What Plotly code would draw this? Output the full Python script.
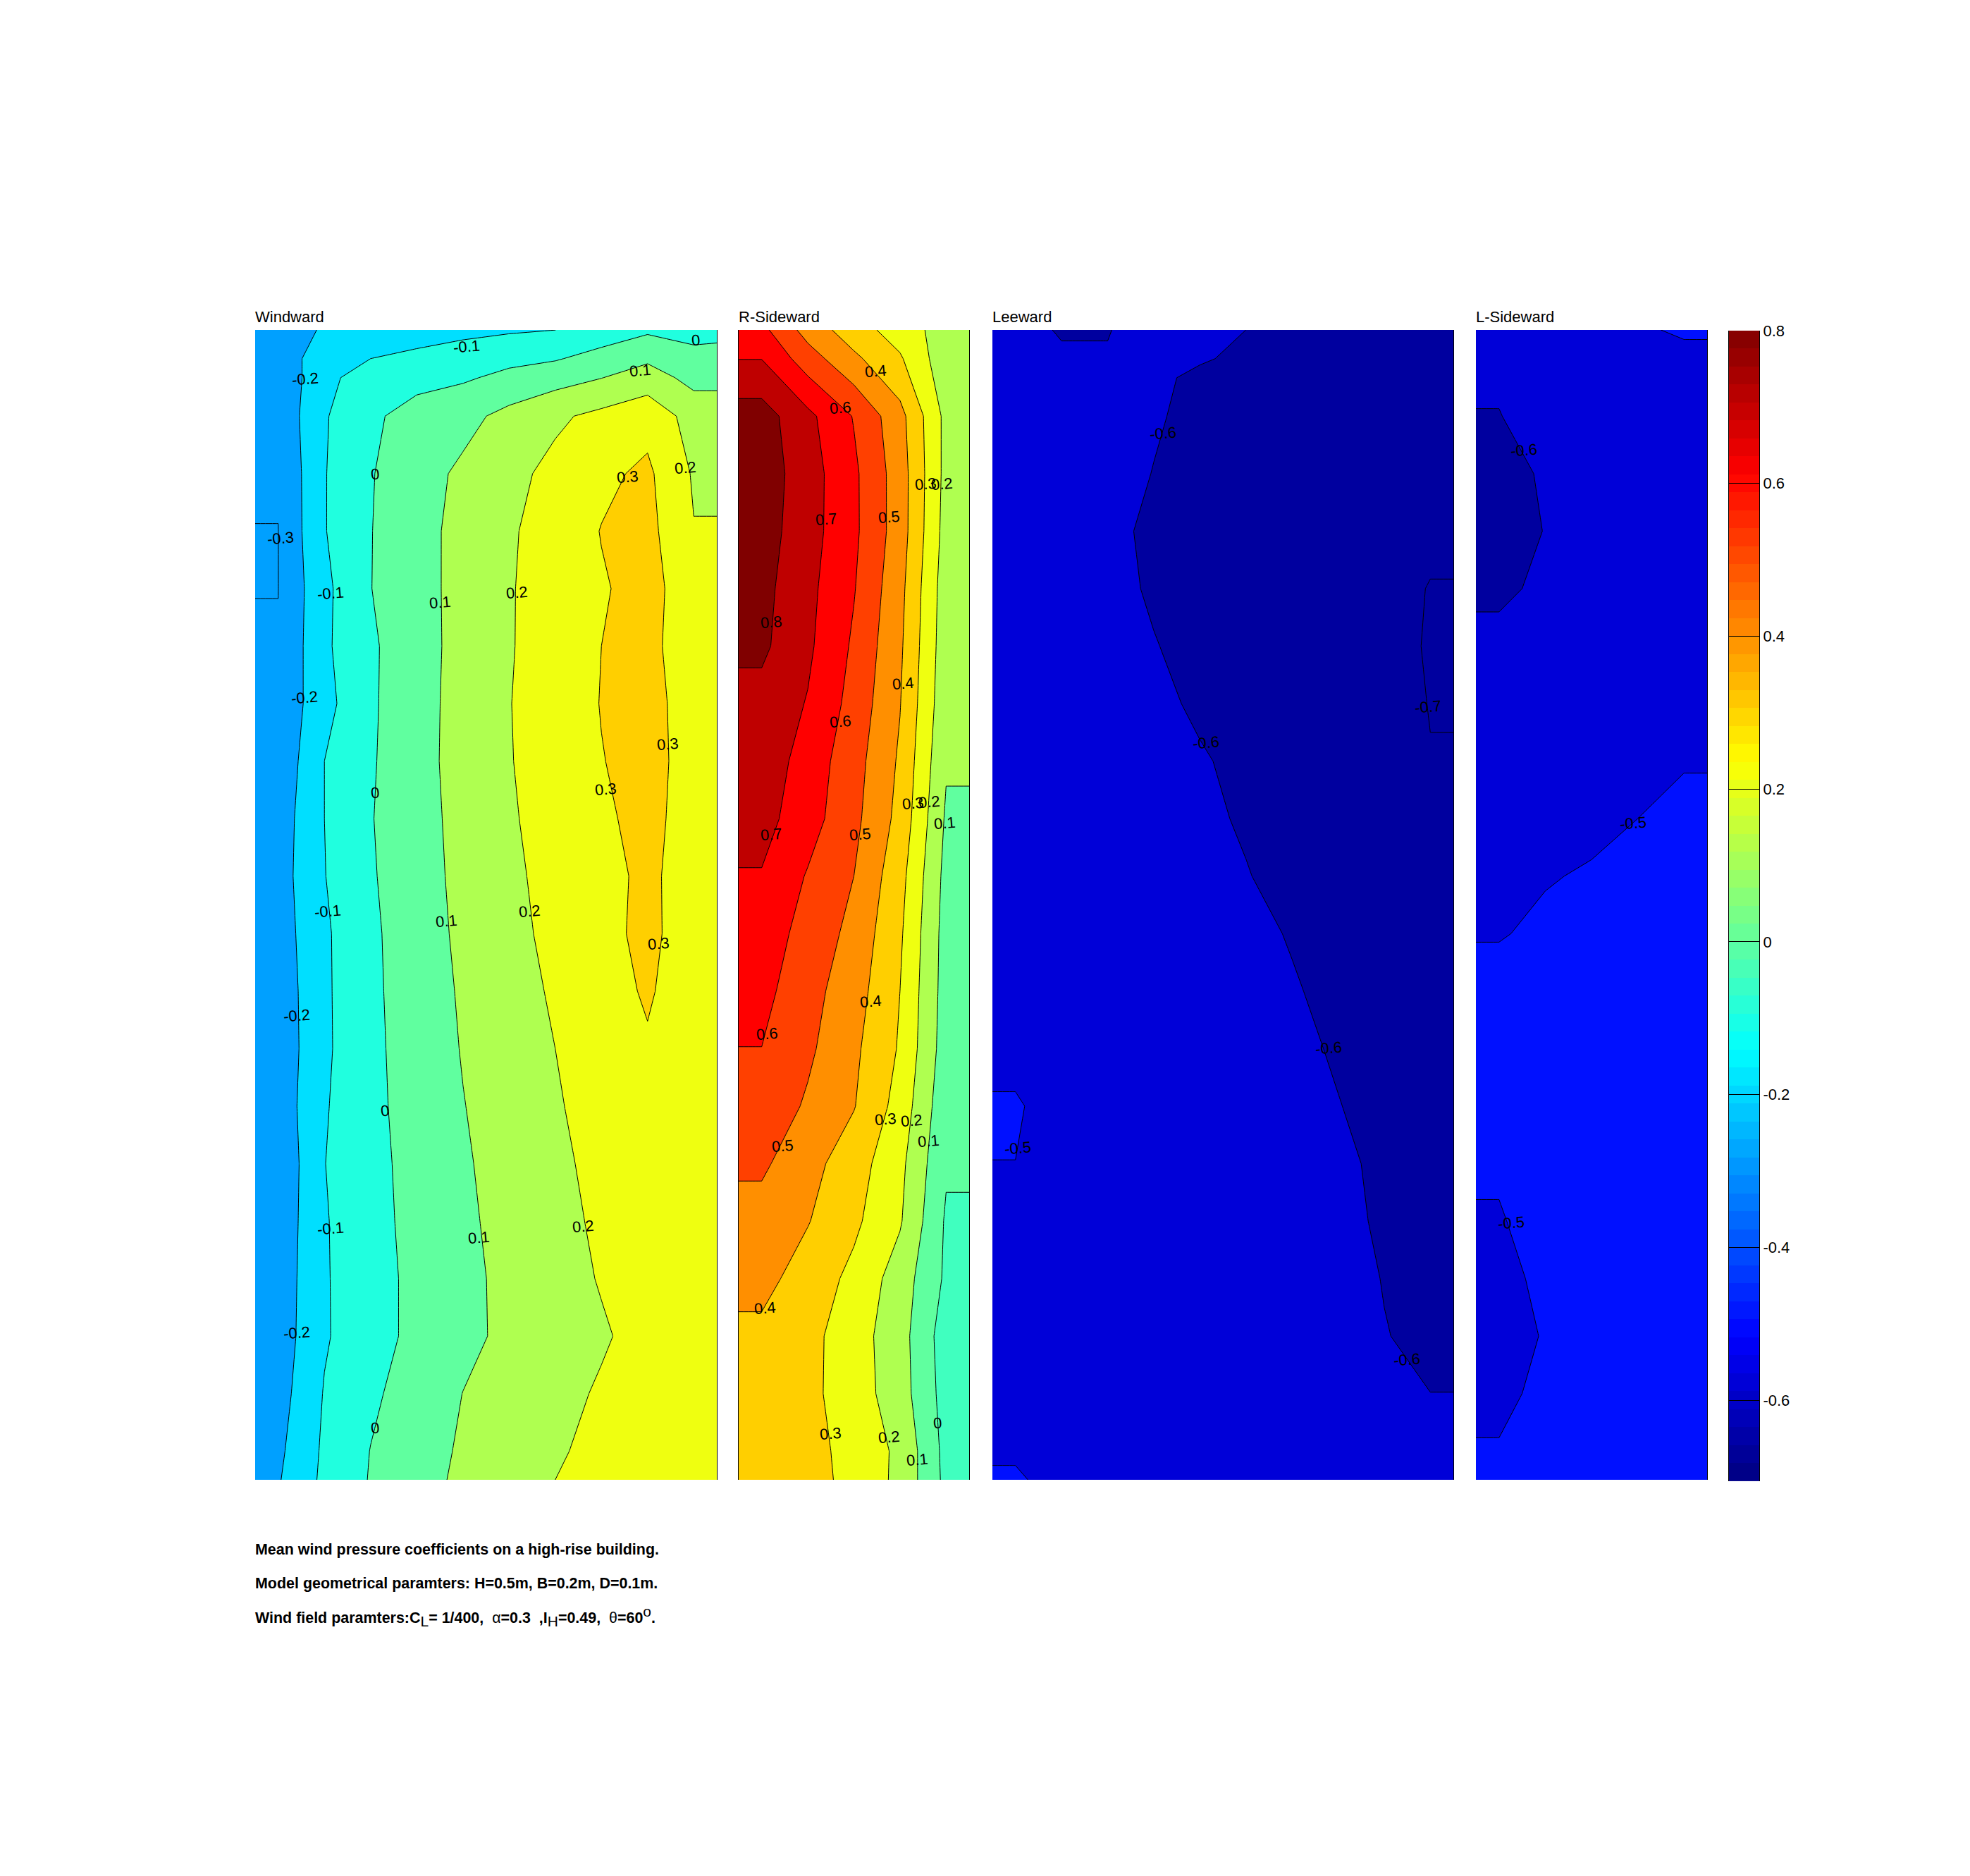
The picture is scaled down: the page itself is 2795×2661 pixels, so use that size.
import plotly.graph_objects as go

W, H = 2795, 2661

# measurement grid (m); rows listed from top of the building to the bottom
heights = [0.5, 0.4875, 0.4625, 0.4375, 0.4125, 0.3875, 0.3625, 0.3375, 0.3125, 0.2875, 0.2625,
           0.2375, 0.2125, 0.1875, 0.1625, 0.1375, 0.1125, 0.0875, 0.0625, 0.0375, 0.0125, 0.0]
wide_heights = [0.5, 0.4875, 0.4792, 0.4625, 0.4375, 0.4125, 0.3875, 0.3625, 0.3375, 0.3125, 0.2875, 0.2625,
                0.2375, 0.2125, 0.1875, 0.1625, 0.1375, 0.1125, 0.0875, 0.0625, 0.0375, 0.0125, 0.0]
wide_x = [0, 0.01, 0.03, 0.05, 0.07, 0.09, 0.11, 0.13, 0.15, 0.17, 0.19, 0.2]
narrow_x = [0, 0.01, 0.03, 0.05, 0.07, 0.09, 0.1]

windward = [
 [-.25,-.25,-.19,-.17,-.145,-.125,-.112,-.1005,-.056,-.016,-.033,-.025],
 [-.28,-.28,-.125,-.1,-.076,-.053,-.023,-.008,.036,.084,.03,.03],
 [-.28,-.28,-.125,-.054,-.03,-.012,.023,.06,.098,.144,.07,.07],
 [-.277,-.277,-.109,-.017,.037,.069,.13,.183,.225,.268,.159,.159],
 [-.2967,-.2967,-.105,-.006,.059,.119,.173,.226,.28,.318,.19,.19],
 [-.3005,-.3005,-.105,-.003,.066,.13,.188,.244,.303,.33,.2035,.2035],
 [-.3005,-.3005,-.123,-.002,.065,.131,.193,.243,.292,.33,.25,.25],
 [-.2976,-.2976,-.117,-.015,.063,.131,.193,.247,.3,.325,.247,.247],
 [-.28,-.28,-.132,-.014,.065,.134,.197,.249,.303,.33,.26,.26],
 [-.276,-.276,-.1,-.01,.064,.138,.195,.246,.297,.33,.265,.265],
 [-.254,-.254,-.1,-.005,.063,.13,.189,.239,.289,.32,.27,.27],
 [-.246,-.246,-.103,-.01,.06,.125,.18,.232,.281,.313,.27,.27],
 [-.252,-.252,-.115,-.018,.055,.119,.173,.224,.273,.323,.25,.25],
 [-.264,-.264,-.116,-.02,.05,.111,.162,.212,.261,.311,.245,.245],
 [-.268,-.268,-.117,-.022,.044,.105,.152,.2,.245,.29,.24,.24],
 [-.262,-.262,-.109,-.024,.039,.097,.144,.19,.24,.27,.24,.24],
 [-.281,-.281,-.102,-.028,.032,.089,.136,.181,.225,.26,.24,.24],
 [-.27,-.27,-.108,-.032,.029,.083,.129,.172,.216,.25,.24,.24],
 [-.262,-.262,-.109,-.037,.024,.076,.123,.164,.206,.24,.23,.23],
 [-.256,-.256,-.11,-.037,.024,.077,.12,.155,.19,.23,.24,.24],
 [-.242,-.242,-.094,-.017,.044,.101,.138,.173,.21,.23,.23,.23],
 [-.22,-.22,-.084,.002,.059,.112,.151,.189,.225,.24,.24,.24],
 [-.208,-.208,-.079,.006,.066,.118,.16,.2,.23,.25,.25,.25],
]

r_sideward = [
 [.627,.627,.461,.345,.254,.154,.154],
 [.698,.698,.546,.421,.312,.136,.136],
 [.845,.845,.725,.594,.433,.172,.172],
 [.856,.856,.745,.619,.45,.17,.17],
 [.845,.845,.742,.62,.45,.161,.161],
 [.83,.83,.727,.606,.43,.146,.146],
 [.82,.82,.718,.585,.417,.14,.14],
 [.767,.767,.694,.565,.404,.13,.13],
 [.76,.76,.658,.54,.386,.11,.11],
 [.735,.735,.643,.526,.37,.087,.087],
 [.694,.694,.592,.5,.335,.07,.07],
 [.65,.65,.566,.47,.315,.06,.06],
 [.63,.63,.535,.445,.3,.057,.057],
 [.599,.599,.518,.42,.29,.05,.05],
 [.565,.565,.487,.405,.262,.03,.03],
 [.517,.517,.434,.347,.226,.012,.012],
 [.461,.461,.405,.32,.21,-.012,-.012],
 [.43,.43,.357,.275,.153,-.016,-.016],
 [.378,.378,.33,.245,.14,-.05,-.05],
 [.37,.37,.325,.25,.145,-.04,-.04],
 [.36,.36,.335,.265,.18,-.03,-.03],
 [.36,.36,.34,.268,.177,-.025,-.025],
]

leeward = [
 [-.58,-.58,-.605,-.605,-.55,-.59,-.6,-.61,-.62,-.62,-.62,-.62],
 [-.56,-.56,-.592,-.592,-.58,-.595,-.61,-.63,-.64,-.64,-.64,-.64],
 [-.56,-.56,-.585,-.59,-.59,-.61,-.62,-.635,-.645,-.645,-.645,-.645],
 [-.56,-.56,-.58,-.59,-.596,-.61,-.63,-.64,-.65,-.65,-.65,-.65],
 [-.55,-.55,-.57,-.585,-.601,-.625,-.64,-.65,-.655,-.66,-.66,-.66],
 [-.55,-.55,-.57,-.587,-.61,-.63,-.645,-.655,-.665,-.675,-.685,-.685],
 [-.55,-.55,-.565,-.58,-.608,-.63,-.645,-.655,-.665,-.675,-.703,-.703],
 [-.55,-.55,-.56,-.575,-.597,-.62,-.64,-.655,-.665,-.68,-.705,-.705],
 [-.55,-.55,-.56,-.57,-.585,-.61,-.63,-.65,-.665,-.675,-.702,-.702],
 [-.55,-.55,-.56,-.565,-.58,-.594,-.615,-.64,-.66,-.675,-.698,-.698],
 [-.55,-.55,-.555,-.56,-.575,-.587,-.607,-.63,-.65,-.665,-.675,-.675],
 [-.55,-.55,-.555,-.56,-.57,-.585,-.597,-.62,-.64,-.655,-.665,-.665],
 [-.545,-.545,-.55,-.56,-.565,-.575,-.585,-.604,-.63,-.645,-.655,-.655],
 [-.54,-.54,-.55,-.555,-.56,-.57,-.58,-.595,-.615,-.635,-.65,-.65],
 [-.53,-.53,-.545,-.55,-.555,-.565,-.575,-.585,-.607,-.63,-.645,-.645],
 [-.49,-.49,-.54,-.55,-.555,-.56,-.57,-.58,-.598,-.62,-.635,-.635],
 [-.5007,-.5007,-.54,-.55,-.555,-.56,-.565,-.575,-.59,-.61,-.63,-.63],
 [-.52,-.52,-.54,-.55,-.555,-.56,-.565,-.575,-.585,-.608,-.625,-.625],
 [-.53,-.53,-.545,-.55,-.555,-.56,-.565,-.57,-.58,-.602,-.62,-.62],
 [-.53,-.53,-.545,-.55,-.555,-.56,-.56,-.57,-.58,-.598,-.612,-.612],
 [-.53,-.53,-.545,-.55,-.55,-.555,-.56,-.565,-.57,-.58,-.5997,-.5997],
 [-.51,-.51,-.54,-.545,-.55,-.55,-.555,-.56,-.56,-.565,-.57,-.57],
 [-.49,-.49,-.527,-.54,-.55,-.55,-.555,-.56,-.56,-.565,-.57,-.57],
]

l_sideward = [
 [-.56,-.56,-.55,-.54,-.51,-.49,-.49],
 [-.58,-.58,-.56,-.55,-.54,-.52,-.52],
 [-.603,-.603,-.56,-.55,-.54,-.53,-.53],
 [-.63,-.63,-.59,-.56,-.55,-.54,-.54],
 [-.63,-.63,-.598,-.565,-.55,-.54,-.54],
 [-.615,-.615,-.585,-.56,-.55,-.54,-.54],
 [-.578,-.578,-.57,-.56,-.55,-.54,-.54],
 [-.57,-.57,-.565,-.555,-.545,-.53,-.53],
 [-.56,-.56,-.555,-.545,-.53,-.505,-.505],
 [-.55,-.55,-.54,-.525,-.5,-.481,-.481],
 [-.535,-.535,-.507,-.49,-.47,-.46,-.46],
 [-.507,-.507,-.48,-.47,-.46,-.45,-.45],
 [-.46,-.46,-.46,-.45,-.45,-.44,-.44],
 [-.46,-.46,-.455,-.45,-.445,-.44,-.44],
 [-.47,-.47,-.46,-.45,-.445,-.44,-.44],
 [-.49,-.49,-.46,-.45,-.445,-.44,-.44],
 [-.506,-.506,-.47,-.46,-.45,-.44,-.44],
 [-.52,-.52,-.485,-.465,-.45,-.44,-.44],
 [-.53,-.53,-.495,-.47,-.455,-.44,-.44],
 [-.52,-.52,-.48,-.465,-.45,-.44,-.44],
 [-.494,-.494,-.47,-.46,-.45,-.44,-.44],
 [-.48,-.48,-.47,-.46,-.45,-.44,-.44],
]

# contour labels: x (m), height (m), text
windward_labels = [
 (.0916,.4929,"-0.1"),(.1907,.4956,"0"),(.0218,.4787,"-0.2"),(.1668,.4825,"0.1"),(.0518,.4372,"0"),
 (.1864,.4400,"0.2"),(.1613,.4361,"0.3"),(.0109,.4094,"-0.3"),(.0327,.3854,"-0.1"),(.0801,.3815,"0.1"),
 (.1134,.3859,"0.2"),(.0213,.3401,"-0.2"),(.1787,.3199,"0.3"),(.0518,.2986,"0"),(.1520,.3002,"0.3"),
 (.0316,.2473,"-0.1"),(.0828,.2429,"0.1"),(.1188,.2473,"0.2"),(.1749,.2331,"0.3"),(.0180,.2020,"-0.2"),
 (.0561,.1605,"0"),(.0327,.1092,"-0.1"),(.0970,.1053,"0.1"),(.1422,.1103,"0.2"),(.0180,.0639,"-0.2"),
 (.0518,.0224,"0"),
]
r_sideward_labels = [
 (.0594,.4820,"0.4"),(.0441,.4662,"0.6"),(.0812,.4329,"0.3"),(.0883,.4329,"0.2"),(.0381,.4176,"0.7"),
 (.0654,.4187,"0.5"),(.0142,.3728,"0.8"),(.0714,.3461,"0.4"),(.0441,.3297,"0.6"),(.0757,.2942,"0.3"),
 (.0828,.2948,"0.2"),(.0894,.2855,"0.1"),(.0142,.2806,"0.7"),(.0529,.2806,"0.5"),(.0572,.2080,"0.4"),
 (.0125,.1938,"0.6"),(.0638,.1567,"0.3"),(.0752,.1561,"0.2"),(.0823,.1474,"0.1"),(.0191,.1452,"0.5"),
 (.0114,.0748,"0.4"),(.0398,.0202,"0.3"),(.0654,.0186,"0.2"),(.0774,.0087,"0.1"),(.0861,.0246,"0"),
]
leeward_labels = [
 (.0741,.4552,"-0.6"),(.0926,.3204,"-0.6"),(.1891,.3362,"-0.7"),(.1460,.1878,"-0.6"),
 (.0109,.1441,"-0.5"),(.1798,.0524,"-0.6"),
]
l_sideward_labels = [(.0207,.4476,"-0.6"),(.0681,.2855,"-0.5"),(.0153,.1119,"-0.5")]

panel_titles = ["Windward", "R-Sideward", "Leeward", "L-Sideward"]
SUB = '<span style="font-size:21px">%s</span>'
caption_lines = [
 "<b>Mean wind pressure coefficients on a high-rise building.</b>",
 "<b>Model geometrical paramters: H=0.5m, B=0.2m, D=0.1m.</b>",
 "<b>Wind field paramters:C</b><sub>" + SUB % "L" + "</sub><b>= 1/400,  </b>α<b>=0.3  ,I</b><sub>" + SUB % "H"
 + "</sub><b>=0.49,  </b>θ<b>=60</b><sup>" + SUB % "o" + "</sup><b>.</b>",
]
colorbar_ticks = [-0.6, -0.4, -0.2, 0, 0.2, 0.4, 0.6, 0.8]

# filled band colours, one per band, from the band's lower level
band_colors = ["#00009F","#00009F","#0000D8","#0010FF","#00A0FF","#00A0FF","#00DFFF","#20FFDF",
               "#60FF9F","#AFFF50","#EFFF10","#FFCF00","#FF8F00","#FF4000","#FF0000","#BF0000","#800000"]
r_band_colors = list(band_colors)
r_band_colors[7] = "#40FFBF"


def steps(colors):
    n = len(colors)
    out = []
    for i, c in enumerate(colors):
        out += [[i / n, c], [(i + 1) / n, c]]
    return out


jet = [[0, "#000080"], [0.125, "#0000FF"], [0.375, "#00FFFF"], [0.625, "#FFFF00"], [0.875, "#FF0000"], [1, "#800000"]]

FONT = "Liberation Sans, Arial, sans-serif"
FS = 22
TOP, BOTTOM = 458, 2096.5
panels = [
    (windward, wide_x, wide_heights, windward_labels, 362, 1017, 0.2, band_colors),
    (r_sideward, narrow_x, heights, r_sideward_labels, 1048, 1375, 0.1, r_band_colors),
    (leeward, wide_x, wide_heights, leeward_labels, 1408, 2062, 0.2, band_colors),
    (l_sideward, narrow_x, heights, l_sideward_labels, 2094, 2422, 0.1, band_colors),
]

fig = go.Figure()
annotations = []
layout = {}
for i, (z, xs, ys, labels, x0, x1, width, colors) in enumerate(panels, start=1):
    s = "" if i == 1 else str(i)
    fig.add_trace(go.Contour(
        x=xs, y=ys[::-1], z=z[::-1], xaxis="x" + s, yaxis="y" + s,
        zmin=-0.8, zmax=0.9, zauto=False, colorscale=steps(colors), showscale=False,
        autocontour=False,
        contours=dict(start=-0.7, end=0.8, size=0.1, coloring="fill", showlabels=False),
        line=dict(color="#000000", width=1, smoothing=0),
        hoverinfo="skip",
    ))
    layout["xaxis" + s] = dict(domain=[x0 / W, x1 / W], range=[0, width], anchor="y" + s, visible=False, fixedrange=True)
    layout["yaxis" + s] = dict(domain=[1 - BOTTOM / H, 1 - TOP / H], range=[0, 0.5], anchor="x" + s, side="right",
                               showline=True, linecolor="#000000", linewidth=1, mirror=(i == 2),
                               showgrid=False, zeroline=False, ticks="", showticklabels=False, fixedrange=True)
    for lx, ly, txt in labels:
        annotations.append(dict(x=lx, y=ly, xref="x" + s, yref="y" + s, text=txt, showarrow=False, textangle=-5,
                                font=dict(family=FONT, size=FS, color="#000000"), xanchor="center", yanchor="middle"))
    annotations.append(dict(x=x0 / W, y=1 - TOP / H + 3.5 / H, xref="paper", yref="paper", text=panel_titles[i - 1],
                            showarrow=False, xanchor="left", yanchor="bottom", xshift=-2,
                            font=dict(family=FONT, size=FS, color="#000000")))

# colour bar drawn as its own axes
cb_lo, cb_hi = -0.706, 0.8
cells = 64
cb_values = [cb_lo + (k + 0.5) * (cb_hi - cb_lo) / cells for k in range(cells)]
fig.add_trace(go.Heatmap(x=[0.5], y=cb_values, z=[[v] for v in cb_values], xaxis="x5", yaxis="y5",
                         colorscale=jet, zmin=cb_lo, zmax=cb_hi, showscale=False, hoverinfo="skip"))
layout["xaxis5"] = dict(domain=[2453 / W, 2496 / W], range=[0, 1], anchor="y5", visible=False, fixedrange=True)
layout["yaxis5"] = dict(domain=[1 - 2098.5 / H, 1 - 459 / H], range=[cb_lo, cb_hi], anchor="x5", side="right",
                        tickvals=colorbar_ticks, ticktext=["-0.6", "-0.4", "-0.2", "0", "0.2", "0.4", "0.6", "0.8"],
                        ticks="inside", ticklen=43, tickwidth=1, tickcolor="#000000",
                        showline=True, linecolor="#000000", linewidth=1, mirror=True, showgrid=False, zeroline=False,
                        tickfont=dict(family=FONT, size=FS, color="#000000"), fixedrange=True)

for txt, yp in zip(caption_lines, [2196, 2244, 2291]):
    annotations.append(dict(x=362 / W, y=1 - yp / H, xref="paper", yref="paper", text=txt, showarrow=False,
                            xanchor="left", yanchor="middle", xshift=-2,
                            font=dict(family=FONT, size=21.45, color="#000000")))

fig.update_layout(width=W, height=H, margin=dict(l=0, r=0, t=0, b=0), autosize=False,
                  paper_bgcolor="#FFFFFF", plot_bgcolor="#FFFFFF", showlegend=False,
                  annotations=annotations, **layout)
fig.write_html("out.html", config={"displayModeBar": False},
               post_script="document.body.style.margin='0';document.documentElement.style.overflow='hidden';")
